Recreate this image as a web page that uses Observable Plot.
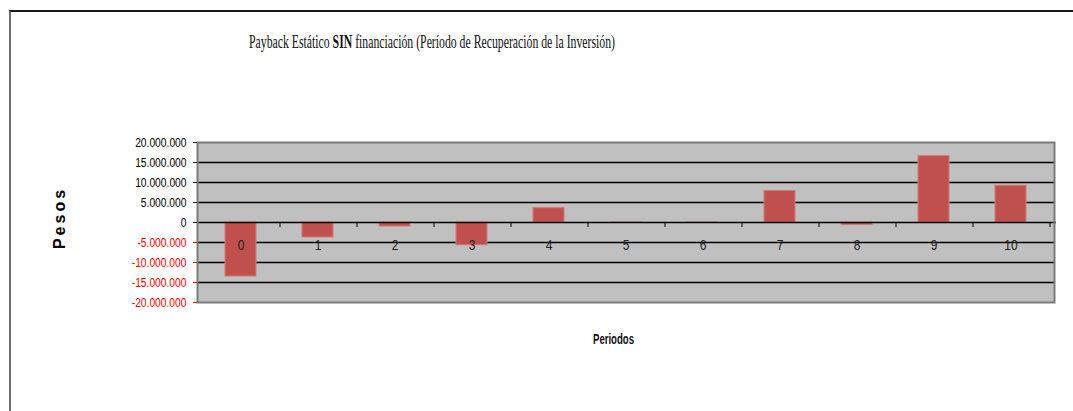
<!DOCTYPE html>
<html>
<head>
<meta charset="utf-8">
<script src="https://cdn.jsdelivr.net/npm/d3@7"></script>
<script src="https://cdn.jsdelivr.net/npm/@observablehq/plot@0.6"></script>
<style>
  html, body { margin: 0; padding: 0; background: #fff; }
  #wrap { position: relative; width: 1073px; height: 411px; overflow: hidden; }
  #wrap svg { position: absolute; left: 0; top: 0; }
  .outer { position: absolute; left: 9px; top: 10px; right: -5px; bottom: -5px;
           border-top: 2px solid #1a1a1a; border-left: 2px solid #6e6e6e; }
  #title { position: absolute; left: 249px; top: 32px; white-space: nowrap;
           font-family: "Liberation Serif", "Times New Roman", serif; font-size: 18px; color: #111;
           transform-origin: 0 0; }
  #ylab { position: absolute; left: 60px; top: 218px; white-space: nowrap;
          transform: translate(-50%, -50%) rotate(-90deg);
          font-family: "Liberation Sans", Arial, sans-serif; font-weight: bold; font-size: 16px;
          letter-spacing: 3px; color: #000; }
  #xlab { position: absolute; left: 593px; top: 331px; white-space: nowrap;
          font-family: "Liberation Sans", Arial, sans-serif;
          font-weight: bold; font-size: 14px; color: #111; transform-origin: 0 0; }
</style>
</head>
<body>
<div id="wrap">
  <div class="outer"></div>
  <div id="chart"></div>
  <div id="title">Payback Estático <b>SIN</b> financiación (Período de Recuperación de la Inversión)</div>
  <div id="ylab">Pesos</div>
  <div id="xlab">Periodos</div>
</div>
<script>
const categories = ["0", "1", "2", "3", "4", "5", "6", "7", "8", "9", "10"];
const values = [-13500000, -3750000, -1000000, -5700000, 3600000, -100000, -100000, 7900000, -650000, 16600000, 9200000];
const yTicks = [20000000, 15000000, 10000000, 5000000, 0, -5000000, -10000000, -15000000, -20000000];

const data = categories.map((c, i) => ({cat: c, value: values[i]}));
const locale = d3.formatLocale({decimal: ",", thousands: ".", grouping: [3], currency: ["$", ""], minus: "-"});
const fmt = locale.format(",d");

const chart = Plot.plot({
  width: 1073,
  height: 411,
  marginLeft: 197,
  marginRight: 19,
  marginTop: 142,
  marginBottom: 109,
  style: {fontFamily: '"Liberation Sans", Arial, sans-serif', fontSize: "13px", background: "transparent", color: "#000"},
  x: {domain: categories, paddingInner: 0.6, paddingOuter: 0.3, axis: null},
  y: {domain: [-20000000, 20000000]},
  marks: [
    Plot.frame({fill: "#c0c0c0"}),
    Plot.ruleY(yTicks.filter(d => d !== 20000000 && d !== -20000000 && d !== 0), {stroke: "#000", strokeWidth: 1.6}),
    Plot.barY(data, {x: "cat", y: "value", fill: "#c0504d", stroke: "#cf7d7a", strokeWidth: 1}),
    Plot.ruleY([0], {stroke: "#000", strokeWidth: 1.6, insetRight: -2}),
    Plot.ruleX(categories, {x: d => d, dx: 39, y1: () => 0, y2: () => 0, insetBottom: -5, stroke: "#000", strokeWidth: 1}),
    Plot.text(categories, {x: d => d, y: () => 0, dy: 23, text: d => d, fill: "#222", fontSize: 15, className: "catlab"}),
    Plot.axisY(yTicks.filter(d => d >= 0), {label: null, tickFormat: fmt, tickSize: 4, tickPadding: 7, color: "#000", fontSize: 13}),
    Plot.axisY(yTicks.filter(d => d < 0), {label: null, tickFormat: fmt, tickSize: 4, tickPadding: 7, color: "#ff0000", fontSize: 13}),
    Plot.frame({stroke: "#7a7a7a", strokeWidth: 2})
  ]
});
document.getElementById("chart").appendChild(chart);

// emulate the narrow typeface of the original
chart.querySelectorAll("text").forEach(el => {
  const tr = el.getAttribute("transform") || "";
  const isCat = el.closest(".catlab") || (el.parentNode && el.parentNode.getAttribute && (el.parentNode.getAttribute("class") || "").includes("catlab"));
  el.setAttribute("transform", tr + (isCat ? " scale(0.8,1)" : " scale(0.79,1)"));
});

const t = document.getElementById("title");
t.style.transform = `scaleX(${366 / t.getBoundingClientRect().width})`;
const xl = document.getElementById("xlab");
xl.style.transform = `scaleX(${41 / xl.getBoundingClientRect().width})`;
</script>
</body>
</html>
